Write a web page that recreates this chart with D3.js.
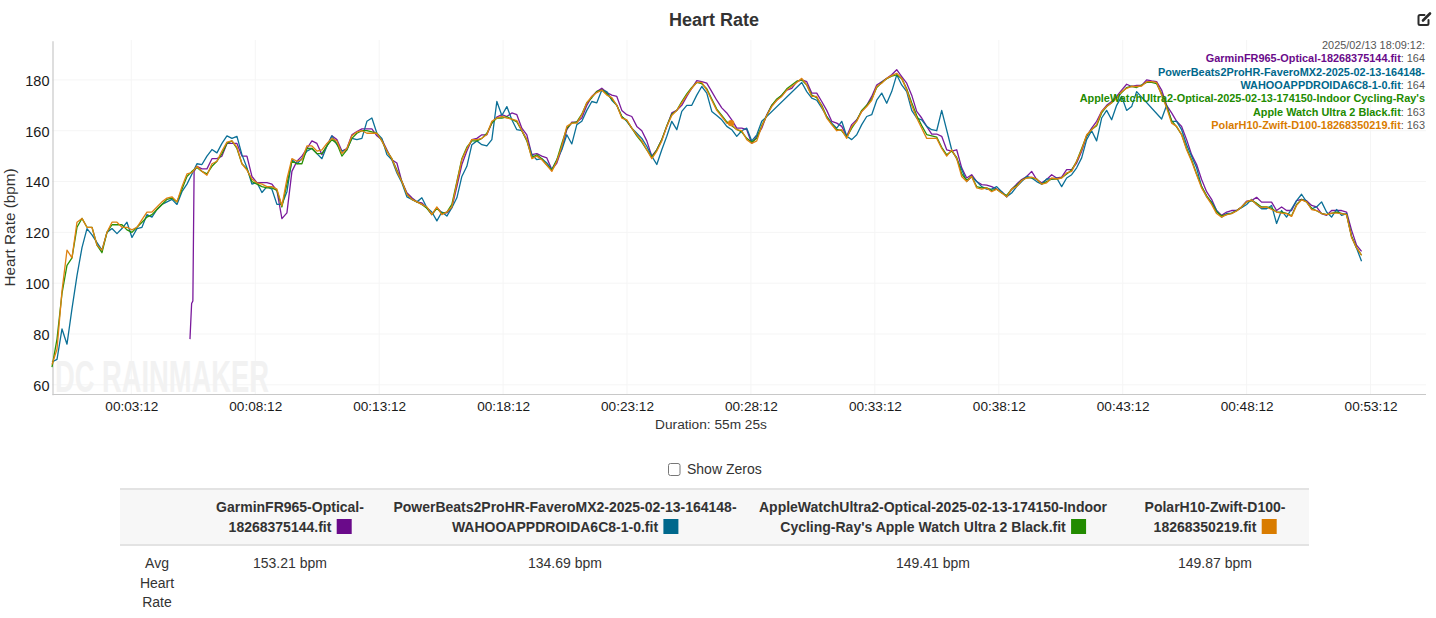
<!DOCTYPE html>
<html>
<head>
<meta charset="utf-8">
<title>Heart Rate</title>
<script src="https://cdn.jsdelivr.net/npm/d3@7"></script>
<style>
  html, body { margin: 0; padding: 0; background: #fff; overflow: hidden; }
  svg { display: block; font-family: "Liberation Sans", Arial, sans-serif; }
</style>
</head>
<body>
<svg id="chart" width="1436" height="618"></svg>
<script>
// seconds between two readings in the hr lists below
var sampleStep = 12.1;

// null = no reading, the line just bridges over it
var garminHr = [
  null,null,null,null,null,null,null,null,null,null,
  null,null,null,null,null,null,null,null,null,null,
  null,null,null,null,null,null,null,null,null,146,
  145,145,149,149,150,155,155,155,150,150,
  142,139.6,139.6,139.6,139,136.4,125.4,127.7,144,148,
  150,153,156,155,150.6,154,158,156.5,152,153,
  158.4,159.7,160.7,160.7,160.7,158,156.5,152.5,148.6,147.3,
  140,135.6,133.6,132,131.6,129.7,127,129.7,127.7,127.7,
  129.7,138,146.7,152,156.5,157,158.4,158.4,163,165.4,
  166.3,165.6,167,166.3,161,158.4,150.6,151,150,149.3,
  144.7,147.3,153,160.4,163.4,163.4,165,170,173.5,175.4,
  176.7,175,174,173.5,168,166.3,165.6,161.7,160,156,
  150,152.5,156.5,161.7,167,168,170,173.5,176.7,179.7,
  179.3,178.7,175.4,172,169,167,164.3,161,161,160.4,
  155,157.8,161,166.3,170,172,174,176,176.7,179.3,
  180,179.3,174.8,174.8,171.5,168,163.7,163,161.7,157.8,
  162.4,164.3,167.6,170,173.5,178,179.3,180.6,182,184,
  181.3,178.7,174,167.6,165,161.7,158.7,158.7,157.8,152.5,
  152,152.5,145.4,141.4,142.7,140,138.8,138.6,138,137,
  136,134,137,139,140.8,142,144,140.8,139.5,140.8,
  142.7,141.4,141.7,144.7,144.7,147.3,151.9,157.8,161,163.7,
  167.6,170,171.5,173.5,176,178.3,177.4,177.8,177.8,180,
  179.6,179.3,176,170,167,163.7,161.7,156.5,150.6,146.7,
  140.8,136,133,128.6,126.7,128,128.6,128.6,130,132.3,
  132.5,133.8,131.9,131.9,131.9,128.6,130,128.6,128.6,132.5,
  133,132.5,130.6,130,127.4,126.7,128.6,128.6,128.6,128,
  120.9,115,112.5
];
// the garmin strap locks on late, these come before its regular readings
var garminRiseSeconds = [334, 338, 341, 344];
var garminRiseHr = [78, 92, 93, 144];

var powerbeatsHr = [
  69,70,82,76,90,103,114,121.5,119,116,
  113,120,121.5,119.5,121.5,124,118,121.5,122,127,
  126,129,131,132,133,131,136,139,143,147,
  146.7,150,152.6,151.3,155,158,157,157.8,150.6,145.4,
  139,139.6,135.7,138,137,131,131,136,148.6,147,
  149,152,153,151,149,154,158,154.5,152,152.5,
  157,156.5,157,163.7,165,159,157,150.6,148.6,143.4,
  139.5,134,133,132,133.6,129.7,128,124.5,128,126.4,
  129.7,133.6,142,146,154.5,156,154.5,154,156.5,171.5,
  166,169.5,164.3,160.4,160,156.5,150.6,148.6,149,147.3,
  144.7,148.6,152.5,158.4,154.8,162.4,163.7,168,171.5,171,
  176,175.4,172,170,165.6,163.7,161,159,157,153.9,
  150,146.7,152.5,157.8,163.7,160.4,167.6,170,170,174,
  177.4,174.8,167.6,166,164.3,161.7,160.4,157.8,160,161,
  156,158.4,163.7,null,null,null,null,null,null,null,
  179,175.4,172.8,172,169,165.6,163,161,163.7,157.8,
  156.5,158.4,162.4,165.6,166.3,172,174.8,170.8,175.4,182,
  178,175.4,168,165,164.3,161.7,160.4,160,168,null,
  152.5,149,144.7,140,142,140,138,137,137,138,
  136,134,135.5,138,140,142,141.4,140,139,141,
  141,141.4,138,141.4,142.7,145.4,149.3,156.5,160,156,
  165,168,164.3,170,173.5,168,169.5,175.4,null,null,
  null,null,164.6,170,163.7,163.7,160.4,154.5,150,145.4,
  138,134,132,128.6,126,127.4,127.6,128.6,129.7,131,
  133,131,129.3,129.3,130.6,123.5,128.6,126,129.3,132.5,
  135,132,129.3,130,132,128,126,129,126.7,127.4,
  118.3,113.8,108.6
];

var appleHr = [
  67,78,96,107,110,122,125.5,122,122,115,
  112,120,123,123,123,121,120,122,124,126,
  127,129,131,133,133.5,132,137,142,144,145.5,
  144,143,146,148,151,155,156,153,147,145,
  140,139,138,137.5,137.5,136.5,130,139,148,147,
  147,153,153,151,151,154,156.5,155,150,152.5,
  157,159,160,160,159.5,159,156,152,149,144.5,
  140,135,133,132,131,129.5,127,129.5,127.5,128,
  131,140,149,153.5,156,156,157,159,163,165,
  165,165.5,164.5,163.5,160,156,149.5,150.5,149,146.5,
  144.5,148.5,155,161,163,163.5,166.5,171,173,175.5,
  176,174.5,172.5,170,165.5,164,161,158,155.5,152.5,
  149.5,152.5,156.5,162,166.5,168,171.5,174.5,177,179,
  178.5,176.5,172.5,168.5,166,163.5,162,160.5,159.5,157,
  155.5,157,162,166,170,172.5,174,176.5,178,179.5,
  180,178,174,173,170,165.5,162.5,160.5,160,157.5,
  161,164,168,170,172.5,177,179,180.5,181.5,182,
  180.5,176.5,171,166,162,158.5,158,157.5,153.5,150.5,
  152,149.5,143,140.5,142,138,137.5,137.5,136.5,137,
  135.5,134.5,137,138.5,140.5,141.5,141.5,141,139,140,
  141,141,141.5,143,144.5,148,153,158,160.5,162,
  167,169.5,171,173,175,177,177.5,177,178,179,
  179,178.5,174.5,169.5,164,161.5,158.5,153,148.5,143,
  138,134.5,131.5,128,126.5,127,127.5,128.5,130,132,
  132.5,131.5,130,130,129.5,128,128,127.5,126.5,131,
  133,132,129.5,128.5,127.5,127,127.5,128,127.5,127,
  118.5,114,111
];

var polarHr = [
  68,74,97,113,110,124,125.5,122,122,115,
  113,120,124,124,122,122,121,122,125,128,
  128,130,132,133.5,134,132,138,143,143.5,146,
  144,142.5,147,148,152,155.5,156,153.5,147,144.5,
  141,139.5,139,138,138,137,130.5,141,149,148,
  148.6,154,154,152,152.5,155,157,156,151,153,
  158,159.5,160,159,159,159,156,152,149,144,
  140,135,133,132,131,130,127,130,127,128,
  130,139.5,148.6,153,156.5,156.5,157,158.5,163.7,165,
  165.6,165,164.6,164,160,156.5,149,150,148.6,146.4,
  144,148,154,161.7,163,163,166.3,171,173.5,175,
  176,174,173,170,165,164.3,161,158.4,156,152.5,
  149,152,156,161.7,166,168,171,174,176.7,179,
  179,176,172,168,165.6,163,162.4,160.4,160,156.5,
  155,156,161.7,166,169.5,172,173.5,176,177.4,179,
  180.6,178,173.5,173.5,169.5,165,162.4,160,160.4,157,
  161.7,163.7,167.6,169.5,172,177.4,178.7,180.6,181.7,182.6,
  180.6,176,170,165,161,157,157,157,153,150,
  152.5,149,142,140,142,137.5,137,137.5,136,137,
  135.5,134,137,138,140.4,141.4,141.7,141,139,139.5,
  141.4,141,141.4,143.4,144,148,152.5,158.4,160.4,162.4,
  167.6,169.5,171,172.8,175.4,176.7,177.4,177.4,177.6,179.3,
  179.3,179,174,169,163,161.7,158.4,152.5,148,142.7,
  137.5,134,131,127.4,126,127,127.4,128.4,130,132,
  132.8,131,129.7,130,129,128,127.6,127.4,126.3,130.6,
  132.8,132,129,128.6,127.4,127,127.6,127.6,127.4,127,
  118,114,111
];

var seriesColors = ["#7a1a9c", "#0b7097", "#2a9106", "#de8210"];
var swatchColors = ["#6a0a8a", "#00688c", "#228b00", "#d97c00"];

var yTicks = [60, 80, 100, 120, 140, 160, 180];
var xTickSeconds = [192, 492, 792, 1092, 1392, 1692, 1992, 2292, 2592, 2892, 3192];

// the hover readout in the corner
var readoutLabel = "2025/02/13 18:09:12:";
var readoutSeconds = 1644;
var readoutNames = [
  ["GarminFR965-Optical-18268375144.fit"],
  ["PowerBeats2ProHR-FaveroMX2-2025-02-13-164148-", "WAHOOAPPDROIDA6C8-1-0.fit"],
  ["AppleWatchUltra2-Optical-2025-02-13-174150-Indoor Cycling-Ray's", "Apple Watch Ultra 2 Black.fit"],
  ["PolarH10-Zwift-D100-18268350219.fit"]
];
var readoutValues = [164, 164, 163, 163];

// table below the chart
var tableHeaders = [
  ["GarminFR965-Optical-", "18268375144.fit"],
  ["PowerBeats2ProHR-FaveroMX2-2025-02-13-164148-", "WAHOOAPPDROIDA6C8-1-0.fit"],
  ["AppleWatchUltra2-Optical-2025-02-13-174150-Indoor", "Cycling-Ray's Apple Watch Ultra 2 Black.fit"],
  ["PolarH10-Zwift-D100-", "18268350219.fit"]
];
var tableAverages = ["153.21 bpm", "134.69 bpm", "149.41 bpm", "149.87 bpm"];
var tableRowLabel = ["Avg", "Heart", "Rate"];
var tableCenters = [290, 565, 933, 1215];

var svg = d3.select("#chart");

var x = d3.scaleLinear().domain([0, 3325]).range([52, 1425.5]);
var y = d3.scaleLinear().domain([56.4, 195.7]).range([394, 40]);

function clock(s) {
  var pad = d3.format("02d");
  return pad(Math.floor(s / 3600)) + ":" + pad(Math.floor(s / 60) % 60) + ":" + pad(s % 60);
}

// grid first, it sits behind everything
svg.append("g").selectAll("line").data(yTicks).enter().append("line")
  .attr("x1", 52).attr("x2", 1426)
  .attr("y1", d => y(d)).attr("y2", d => y(d))
  .attr("stroke", "#f5f5f5");
svg.append("g").selectAll("line").data(xTickSeconds).enter().append("line")
  .attr("x1", d => x(d)).attr("x2", d => x(d))
  .attr("y1", 40).attr("y2", 394)
  .attr("stroke", "#f5f5f5");

// watermark
svg.append("text")
  .attr("x", 55).attr("y", 392)
  .attr("textLength", 214).attr("lengthAdjust", "spacingAndGlyphs")
  .style("font-family", "'Liberation Sans Narrow', 'Liberation Sans'")
  .style("font-size", "44px").style("font-weight", "700")
  .attr("fill", "#f2f2f2")
  .text("DC RAINMAKER");

// axes
var xAxis = d3.axisBottom(x).tickValues(xTickSeconds).tickFormat(clock).tickSize(0).tickPadding(7);
var yAxis = d3.axisLeft(y).tickValues(yTicks).tickSize(0).tickPadding(3);

var gx = svg.append("g").attr("transform", "translate(0,394)").call(xAxis);
var gy = svg.append("g").attr("transform", "translate(52.5,0.8)").call(yAxis);
gx.selectAll("text").style("font-size", "13.6px");
gy.selectAll("text").style("font-size", "14.5px");
[gx, gy].forEach(function(g) {
  g.selectAll("text").style("font-family", "'Liberation Sans'").attr("fill", "#1a1a1a");
  g.select(".domain").attr("stroke", "#c8c8c8").attr("stroke-width", 1.2);
});

svg.append("text")
  .attr("transform", "translate(14.5,227.5) rotate(-90)")
  .attr("text-anchor", "middle")
  .style("font-size", "15.3px").attr("fill", "#333")
  .text("Heart Rate (bpm)");

// the four traces
var line = d3.line().x(d => x(d[0])).y(d => y(d[1]));

function toPoints(hr) {
  var pts = [];
  hr.forEach(function(v, i) {
    if (v !== null) pts.push([i * sampleStep, v]);
  });
  return pts;
}

var garminPoints = garminRiseSeconds.map((s, i) => [s, garminRiseHr[i]]).concat(toPoints(garminHr));
var allPoints = [garminPoints, toPoints(powerbeatsHr), toPoints(appleHr), toPoints(polarHr)];

svg.append("g").selectAll("path").data(allPoints).enter().append("path")
  .attr("d", line)
  .attr("fill", "none")
  .attr("stroke", (d, i) => seriesColors[i])
  .attr("stroke-width", 1.3)
  .attr("stroke-linejoin", "round");

// hover dot, only the top series shows in the reference
svg.append("circle")
  .attr("cx", x(readoutSeconds))
  .attr("cy", y(readoutValues[3]))
  .attr("r", 3.2)
  .attr("fill", seriesColors[3]);

// title and the edit icon
svg.append("text")
  .attr("x", 714).attr("y", 26)
  .attr("text-anchor", "middle")
  .style("font-size", "18px").style("font-weight", "700")
  .attr("fill", "#333")
  .text("Heart Rate");

var icon = svg.append("g")
  .attr("transform", "translate(1417.5,12.5)")
  .attr("fill", "none").attr("stroke", "#2b2b2b").attr("stroke-width", 2)
  .attr("stroke-linecap", "round");
icon.append("path").attr("d", "M7 2.5H2.5Q1 2.5 1 4V11Q1 12.5 2.5 12.5H9.5Q11 12.5 11 11V7.5");
icon.append("path").attr("d", "M5.5 8L12.5 1").attr("stroke-width", 2.6);

// readout, right aligned, one row per text line
var readout = svg.append("g").style("font-size", "10.9px");
var readoutRow = 49;
readout.append("text").attr("x", 1425).attr("y", readoutRow)
  .attr("text-anchor", "end").attr("fill", "#555").text(readoutLabel);
readoutNames.forEach(function(names, s) {
  names.forEach(function(name, n) {
    readoutRow += 13.3;
    var t = readout.append("text").attr("x", 1425).attr("y", readoutRow).attr("text-anchor", "end");
    t.append("tspan").attr("fill", swatchColors[s]).style("font-weight", "700").text(name);
    if (n == names.length - 1) {
      t.append("tspan").attr("fill", "#555").text(": " + readoutValues[s]);
    }
  });
});

svg.append("text")
  .attr("x", 711).attr("y", 429)
  .attr("text-anchor", "middle")
  .style("font-size", "13.7px").attr("fill", "#333")
  .text("Duration: 55m 25s");

// show zeros checkbox
svg.append("rect")
  .attr("x", 668.5).attr("y", 463.5).attr("width", 11.5).attr("height", 12).attr("rx", 2)
  .attr("fill", "#fff").attr("stroke", "#777");
svg.append("text")
  .attr("x", 687).attr("y", 474)
  .style("font-size", "14px").attr("fill", "#333")
  .text("Show Zeros");

// table
svg.append("rect")
  .attr("x", 120).attr("y", 489).attr("width", 1189).attr("height", 56)
  .attr("fill", "#f7f7f7");
[489, 545].forEach(function(ly) {
  svg.append("line")
    .attr("x1", 120).attr("x2", 1309).attr("y1", ly).attr("y2", ly)
    .attr("stroke", "#e3e3e3").attr("stroke-width", 2);
});

tableHeaders.forEach(function(lines, i) {
  svg.append("text")
    .attr("x", tableCenters[i]).attr("y", 512)
    .attr("text-anchor", "middle")
    .style("font-size", "14px").style("font-weight", "700").attr("fill", "#333")
    .text(lines[0]);
  // second line carries the swatch behind the name
  var second = svg.append("text")
    .attr("x", tableCenters[i] - 10).attr("y", 532)
    .attr("text-anchor", "middle")
    .style("font-size", "14px").style("font-weight", "700").attr("fill", "#333")
    .text(lines[1]);
  var box = second.node().getBBox();
  svg.append("rect")
    .attr("x", box.x + box.width + 5).attr("y", 519).attr("width", 15).attr("height", 15)
    .attr("fill", swatchColors[i]);
  svg.append("text")
    .attr("x", tableCenters[i]).attr("y", 568)
    .attr("text-anchor", "middle")
    .style("font-size", "14px").attr("fill", "#333")
    .text(tableAverages[i]);
});

tableRowLabel.forEach(function(word, i) {
  svg.append("text")
    .attr("x", 157).attr("y", 568 + i * 19.5)
    .attr("text-anchor", "middle")
    .style("font-size", "14px").attr("fill", "#333")
    .text(word);
});
</script>
</body>
</html>
